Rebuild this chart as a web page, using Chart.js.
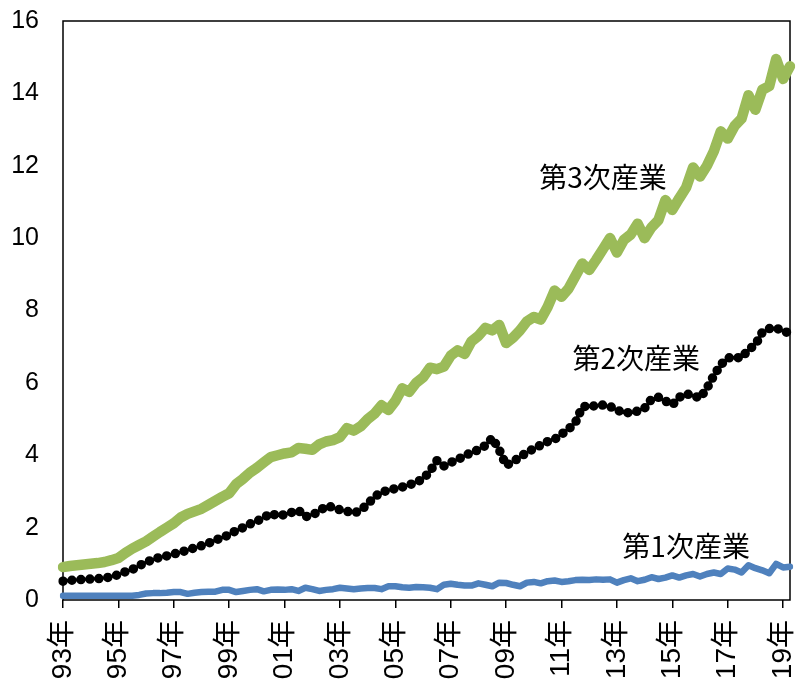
<!DOCTYPE html>
<html>
<head>
<meta charset="utf-8">
<script src="https://cdn.jsdelivr.net/npm/chart.js@4"></script>
<style>
  body { margin: 0; background: #fff; }
  #wrap { width: 797px; height: 682px; }
</style>
</head>
<body>
<div id="wrap"><canvas id="myChart"></canvas></div>
<script>
// quarterly, 1993Q1 - 2019Q2
const quarters = [];
for (let y = 1993; y <= 2019; y++) {
  for (let q = 1; q <= 4; q++) {
    if (y === 2019 && q > 2) break;
    quarters.push(y + 'Q' + q);
  }
}

// tick labels, one every 8 quarters
const tickLabels = ['93年', '95年', '97年', '99年', '01年', '03年', '05年', '07年',
  '09年', '11年', '13年', '15年', '17年', '19年'];

const tertiary = [
  0.91, 0.94, 0.96, 0.98,
  1.00, 1.02, 1.05, 1.10,
  1.16, 1.30, 1.42, 1.52,
  1.62, 1.75, 1.88, 2.00,
  2.12, 2.28, 2.38, 2.45,
  2.52, 2.63, 2.74, 2.85,
  2.95, 3.20, 3.35, 3.52,
  3.65, 3.80, 3.95, 4.00,
  4.05, 4.08, 4.20, 4.18,
  4.15, 4.30, 4.38, 4.42,
  4.50, 4.75, 4.68, 4.80,
  5.00, 5.15, 5.38, 5.25,
  5.50, 5.85, 5.75, 6.00,
  6.15, 6.42, 6.38, 6.45,
  6.75, 6.90, 6.80, 7.15,
  7.30, 7.52, 7.45, 7.60,
  7.10, 7.25, 7.45, 7.70,
  7.82, 7.75, 8.10, 8.55,
  8.38, 8.60, 8.95, 9.30,
  9.12, 9.40, 9.70, 10.00,
  9.60, 9.95, 10.10, 10.40,
  10.00, 10.30, 10.50, 11.05,
  10.78, 11.10, 11.40, 11.95,
  11.70, 12.00, 12.40, 12.95,
  12.75, 13.10, 13.30, 13.95,
  13.55, 14.10, 14.20, 14.95,
  14.40, 14.75
];

const secondary = [
  0.52, 0.54, 0.56, 0.57,
  0.58, 0.59, 0.61, 0.64,
  0.70, 0.78, 0.84, 0.95,
  1.04, 1.12, 1.18, 1.22,
  1.27, 1.32, 1.38, 1.44,
  1.50, 1.57, 1.65, 1.73,
  1.80, 1.92, 2.00, 2.10,
  2.18, 2.27, 2.40, 2.32,
  2.36, 2.42, 2.48, 2.30,
  2.35, 2.45, 2.60, 2.56,
  2.49, 2.45, 2.40, 2.48,
  2.65, 2.85, 2.98, 3.03,
  3.08, 3.12, 3.18, 3.25,
  3.35, 3.55, 3.85, 3.70,
  3.80, 3.88, 3.98, 4.08,
  4.15, 4.27, 4.48, 4.15,
  3.72, 3.82, 3.95, 4.08,
  4.18, 4.28, 4.38, 4.44,
  4.58, 4.72, 4.90, 5.33,
  5.38, 5.35, 5.39, 5.35,
  5.25, 5.17, 5.18, 5.22,
  5.30, 5.55, 5.60, 5.50,
  5.39, 5.60, 5.70, 5.65,
  5.58, 5.85, 6.20, 6.50,
  6.69, 6.70, 6.69, 6.92,
  7.05, 7.40, 7.50, 7.52,
  7.42, 7.38
];

const primary = [
  0.12, 0.12, 0.12, 0.12,
  0.12, 0.12, 0.12, 0.12,
  0.12, 0.12, 0.12, 0.14,
  0.18, 0.19, 0.19, 0.20,
  0.22, 0.22, 0.17, 0.20,
  0.22, 0.23, 0.23, 0.28,
  0.28, 0.22, 0.25, 0.28,
  0.30, 0.24, 0.28, 0.29,
  0.28, 0.30, 0.25, 0.34,
  0.30, 0.25, 0.28, 0.30,
  0.34, 0.32, 0.30, 0.32,
  0.33, 0.33, 0.30, 0.38,
  0.38, 0.35, 0.34, 0.36,
  0.35, 0.34, 0.30, 0.42,
  0.45, 0.42, 0.40, 0.40,
  0.46, 0.42, 0.38, 0.48,
  0.47, 0.42, 0.38, 0.48,
  0.50, 0.46, 0.52, 0.54,
  0.50, 0.52, 0.55, 0.56,
  0.55, 0.57, 0.56, 0.57,
  0.48, 0.55, 0.60, 0.52,
  0.56, 0.63, 0.58, 0.62,
  0.68, 0.62, 0.68, 0.72,
  0.65, 0.72, 0.76, 0.72,
  0.87, 0.84, 0.76, 0.96,
  0.88, 0.82, 0.74, 1.00,
  0.90, 0.92
];

// series names, drawn next to the lines (quarter index, value)
const notes = [
  { text: '第3次産業', at: [78.0, 11.69] },
  { text: '第2次産業', at: [82.8, 6.69] },
  { text: '第1次産業', at: [90.0, 1.49] }
];

// frame around the plot area + series names
const framePlugin = {
  id: 'frame',
  beforeDatasetsDraw(chart) {
    const { ctx, chartArea: a } = chart;
    ctx.save();
    ctx.strokeStyle = '#000';
    ctx.lineWidth = 1.5;
    ctx.strokeRect(a.left, a.top, a.right - a.left, a.bottom - a.top);
    ctx.restore();
  },
  afterDatasetsDraw(chart) {
    const { ctx } = chart;
    const xs = chart.scales.x, ys = chart.scales.y;
    ctx.save();
    ctx.fillStyle = '#000';
    ctx.font = '28px "Noto Sans CJK JP"';
    ctx.textAlign = 'center';
    ctx.textBaseline = 'middle';
    notes.forEach(n => {
      ctx.fillText(n.text, xs.getPixelForValue(n.at[0]), ys.getPixelForValue(n.at[1]));
    });
    ctx.restore();
  }
};

const config = {
  type: 'line',
  data: {
    labels: quarters,
    datasets: [
      {
        label: '第3次産業',
        data: tertiary,
        borderColor: '#9BBB59',
        borderWidth: 10.5,
        borderJoinStyle: 'round',
        borderCapStyle: 'round',
        pointRadius: 0,
        tension: 0
      },
      {
        label: '第2次産業',
        data: secondary,
        borderColor: '#000',
        borderWidth: 9.5,
        borderDash: [0, 9],
        borderCapStyle: 'round',
        borderJoinStyle: 'round',
        pointRadius: 0,
        tension: 0
      },
      {
        label: '第1次産業',
        data: primary,
        borderColor: '#4F81BD',
        borderWidth: 6.5,
        borderJoinStyle: 'round',
        borderCapStyle: 'round',
        pointRadius: 0,
        tension: 0
      }
    ]
  },
  options: {
    responsive: true,
    maintainAspectRatio: false,
    animation: false,
    layout: { padding: { top: 21, right: 7, left: 0, bottom: 0 } },
    plugins: {
      legend: { display: false },
      tooltip: { enabled: false }
    },
    scales: {
      x: {
        offset: false,
        border: { display: false },
        grid: {
          drawOnChartArea: false,
          drawTicks: true,
          tickLength: 8,
          lineWidth: 1.5,
          color: c => (c.index % 8 === 0 ? '#000' : 'rgba(0,0,0,0)')
        },
        ticks: {
          autoSkip: false,
          minRotation: 90,
          maxRotation: 90,
          padding: 12,
          color: '#000',
          font: { family: '"Liberation Sans", "Noto Sans CJK JP"', size: 28 },
          callback: (v, i) => (i % 8 === 0 ? tickLabels[i / 8] : '')
        },
        afterFit: s => {
          s.height = 82;
          s.paddingLeft = 0;
          s.paddingRight = 0;
        }
      },
      y: {
        min: 0,
        max: 16,
        border: { display: false },
        grid: { display: false, drawTicks: false },
        ticks: {
          stepSize: 2,
          padding: 24,
          color: '#000',
          font: { family: '"Liberation Sans"', size: 25 }
        },
        afterFit: s => {
          s.width = 63;
          s.paddingTop = 0;
          s.paddingBottom = 0;
        }
      }
    }
  },
  plugins: [framePlugin]
};

const ctx = document.getElementById('myChart').getContext('2d');
const myChart = new Chart(ctx, config);
</script>
</body>
</html>
